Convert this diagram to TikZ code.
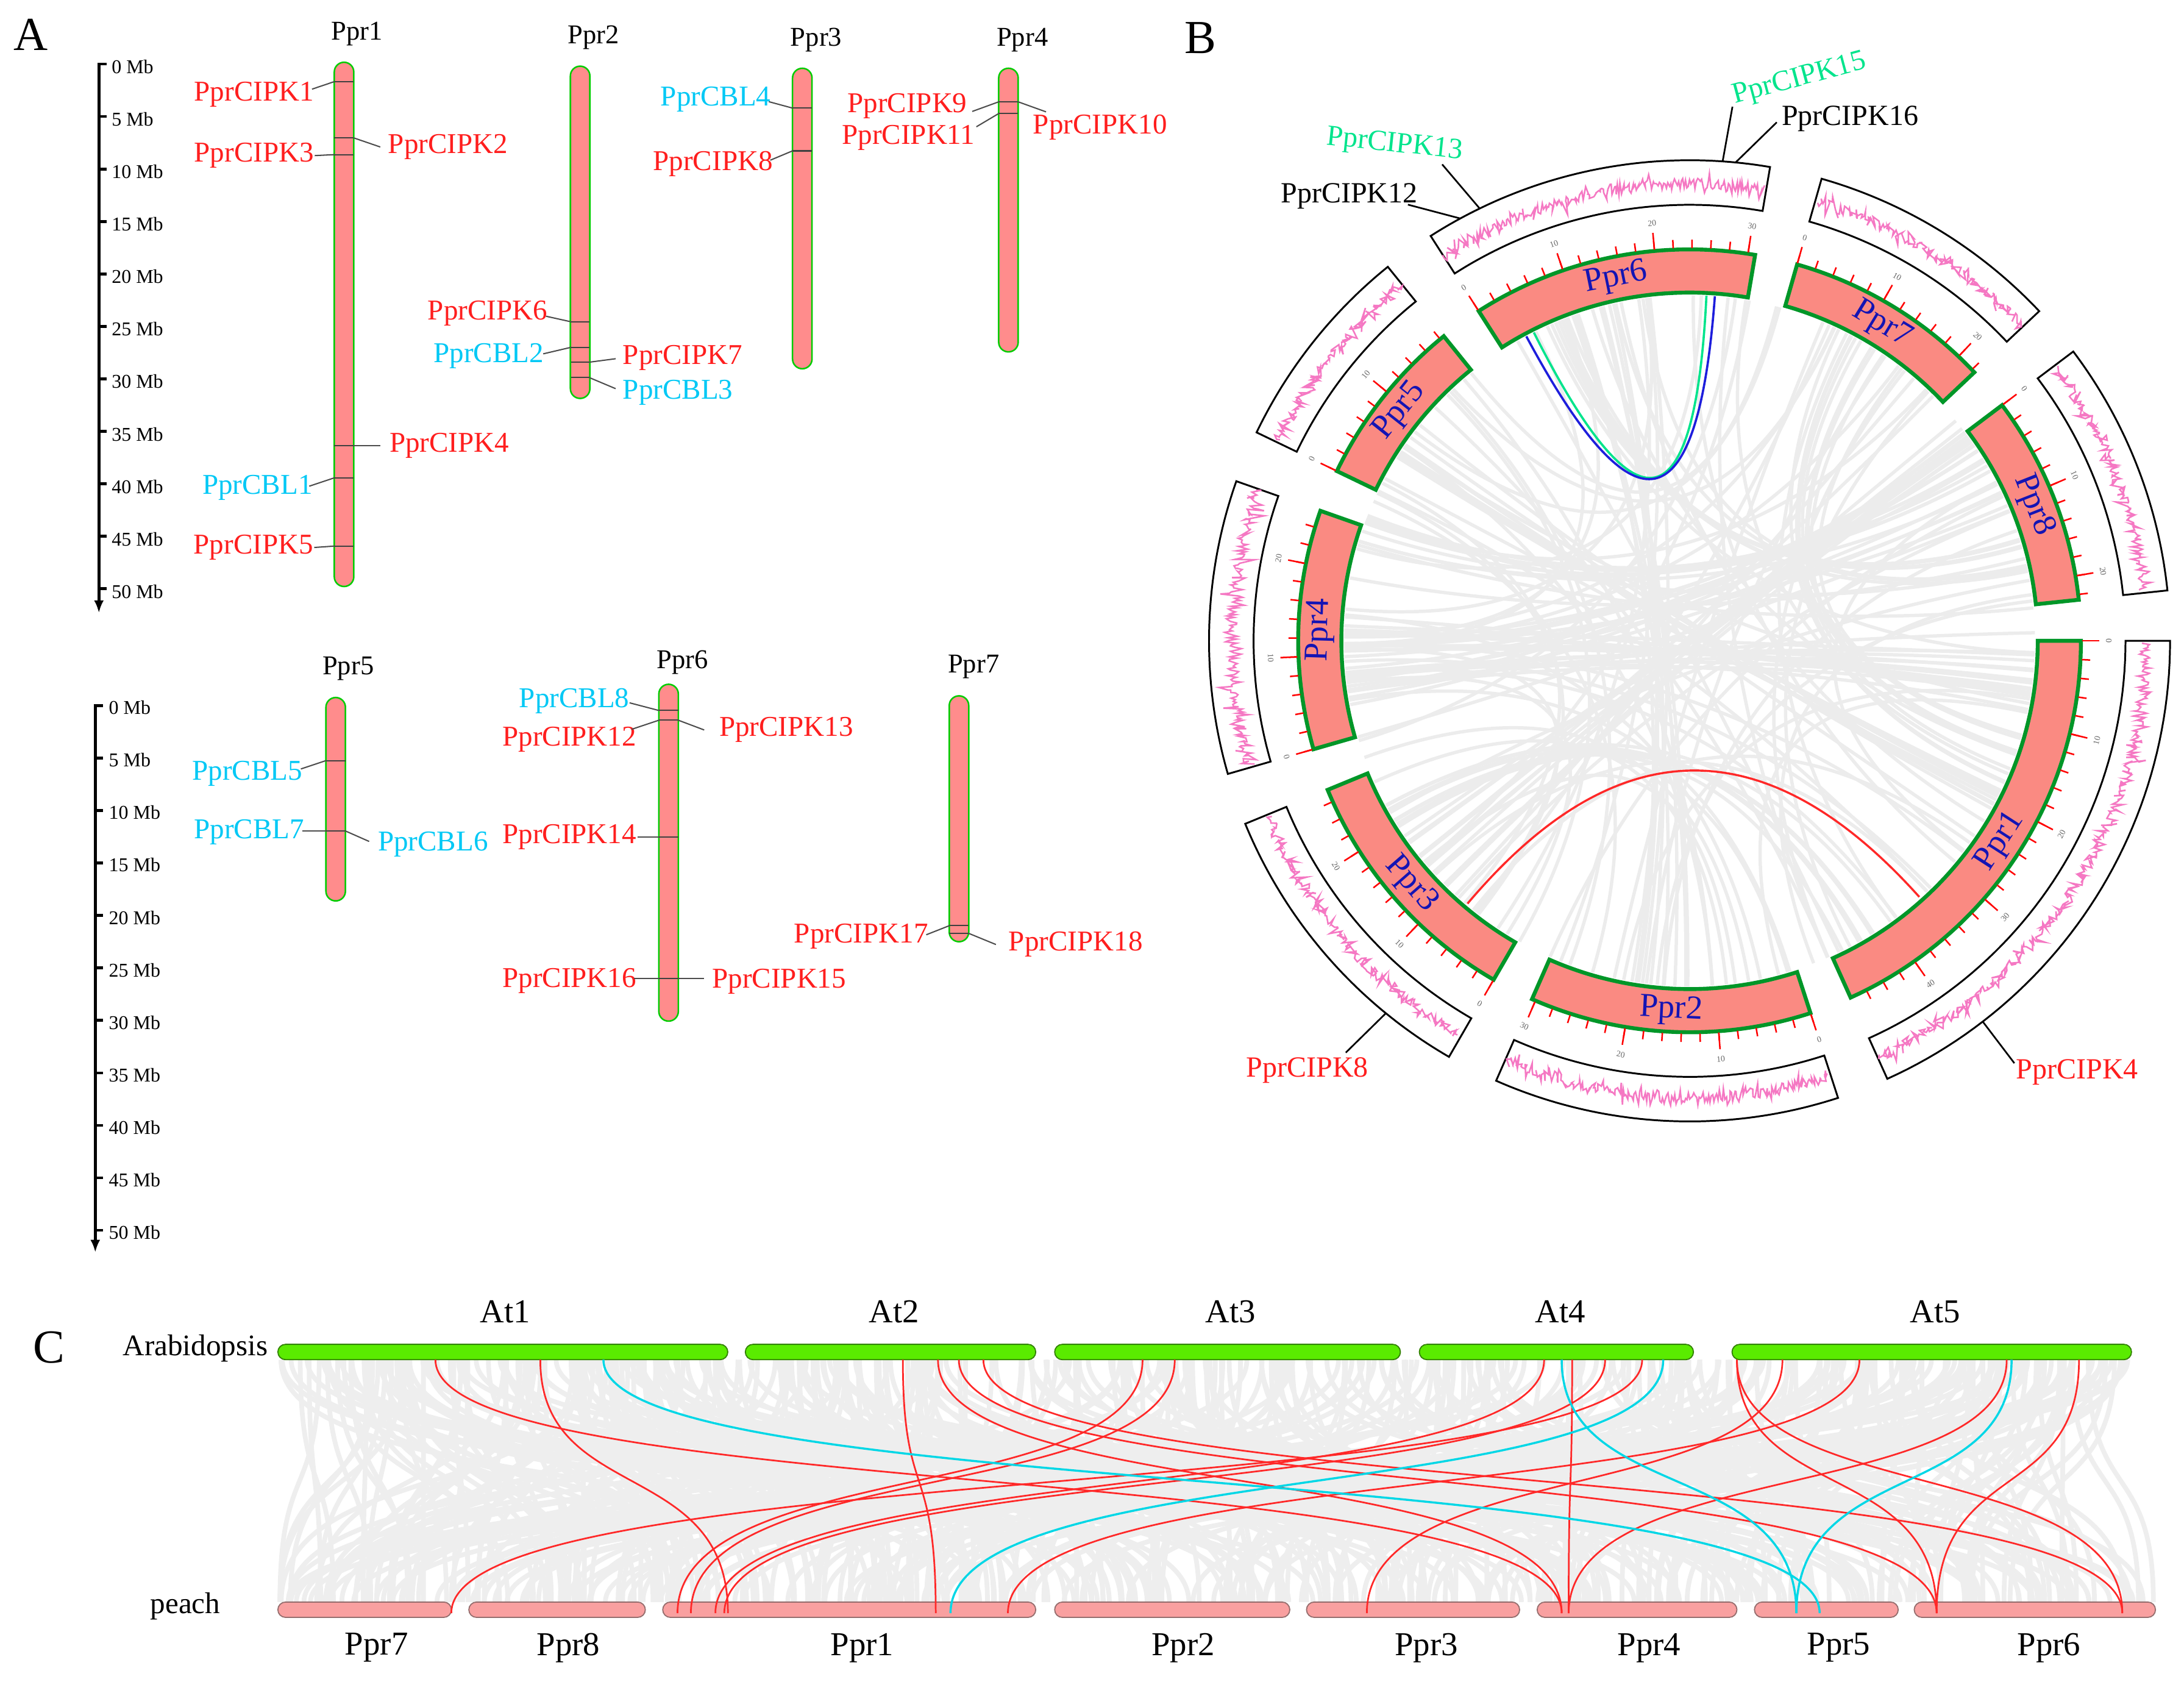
\documentclass[tikz,border=0pt]{standalone}
\usepackage{fontspec}
\setmainfont{Liberation Serif}
\usetikzlibrary{arrows.meta}
\newcommand\myfs[1]{\fontsize{#1}{#1}\selectfont}
\definecolor{cipkred}{RGB}{255,30,30}
\definecolor{cblcyan}{RGB}{0,200,245}
\definecolor{chromfill}{RGB}{255,140,140}
\definecolor{chromedge}{RGB}{0,205,0}
\definecolor{ideofill}{RGB}{250,138,130}
\definecolor{ideoedge}{RGB}{0,150,40}
\definecolor{ideoblue}{RGB}{20,20,180}
\definecolor{densepink}{RGB}{245,120,195}
\definecolor{linkgray}{RGB}{236,236,236}
\definecolor{mint}{RGB}{0,228,140}
\definecolor{linkblue}{RGB}{30,30,220}
\definecolor{atgreen}{RGB}{90,235,0}
\definecolor{atedge}{RGB}{50,130,0}
\definecolor{peachfill}{RGB}{249,160,160}
\definecolor{peachedge}{RGB}{150,110,110}
\definecolor{synred}{RGB}{255,40,40}
\definecolor{syncyan}{RGB}{0,215,230}
\definecolor{cgray}{RGB}{238,238,238}
\begin{document}
\begin{tikzpicture}[x=1pt,y=-1pt,
  lblr/.style={text=cipkred,font=\myfs{20.6},inner sep=0.5pt},
  lblc/.style={text=cblcyan,font=\myfs{20.6},inner sep=0.5pt},
  chrA/.style={draw=chromedge,fill=chromfill,line width=1.1pt,rounded corners=7pt,minimum width=14,inner sep=0pt},
  chrname/.style={font=\myfs{19.5},inner sep=0pt},
  mk/.style={draw=black!75,line width=0.9pt},
  ldr/.style={draw=black!70,line width=0.9pt},
  axisl/.style={line width=2.4pt},
  axist/.style={line width=2pt},
  ticklbl/.style={font=\myfs{14},anchor=west,inner sep=0pt},
  panel/.style={font=\myfs{34},inner sep=0pt},
  glink/.style={draw=linkgray,line width=2.4pt},
  trackbox/.style={draw=black,fill=white,line width=1.3pt},
  densl/.style={draw=densepink,line width=1.1pt},
  ideo/.style={draw=ideoedge,fill=ideofill,line width=2.8pt,line join=miter},
  tickr/.style={draw=red,line width=1.1pt},
  ticknum/.style={font=\myfs{6},text=black!60,inner sep=0pt},
  ideolbl/.style={font=\myfs{24},text=ideoblue,inner sep=0pt},
  blbl/.style={font=\myfs{21},inner sep=0pt},
  bldr/.style={draw=black,line width=1.2pt},
  clink/.style={draw=cgray,line width=3.4pt},
  synr/.style={draw=synred,line width=1.2pt},
  sync/.style={draw=syncyan,line width=1.5pt},
  atbar/.style={draw=atedge,fill=atgreen,line width=0.8pt,rounded corners=5.5pt,minimum height=11,inner sep=0pt},
  pbar/.style={draw=peachedge,fill=peachfill,line width=0.8pt,rounded corners=5.5pt,minimum height=11,inner sep=0pt},
  clbl/.style={font=\myfs{24},inner sep=0pt},
  splbl/.style={font=\myfs{21.5},inner sep=0pt}
]
\useasboundingbox (0,0) rectangle (1568,1207);

%================ PANEL A =================
\node[panel] (pA) at (22,25) {A};
\draw[axisl,-{Latex[length=9pt,width=7pt]}] (71,45) -- (71,440);
\foreach \i in {0,...,10}{
  \pgfmathsetmacro\yy{46+37.66*\i}
  \pgfmathtruncatemacro\mb{5*\i}
  \draw[axist] (71,\yy) -- (76.5,\yy);
  \node[ticklbl] (ta\i) at (80,\yy+2) {\mb\ Mb};
}
\draw[axisl,-{Latex[length=9pt,width=7pt]}] (68.4,505.5) -- (68.4,899);
\foreach \i in {0,...,10}{
  \pgfmathsetmacro\yy{506.5+37.66*\i}
  \pgfmathtruncatemacro\mb{5*\i}
  \draw[axist] (68.4,\yy) -- (74,\yy);
  \node[ticklbl] (tb\i) at (78,\yy+1.5) {\mb\ Mb};
}
\node[chrA,minimum height=376.3] (A1) at (247,232.85) {};
\node[chrA,minimum height=238.5] (A2) at (416.5,166.75) {};
\node[chrA,minimum height=215.7] (A3) at (576,156.85) {};
\node[chrA,minimum height=203.6] (A4) at (724,150.8) {};
\node[chrA,minimum height=146] (A5) at (241,573.7) {};
\node[chrA,minimum height=241.8] (A6) at (480,612.1) {};
\node[chrA,minimum height=176.5] (A7) at (688.5,587.75) {};
\node[chrname] (nA1) at (256.4,24.5) {Ppr1};
\node[chrname] (nA2) at (426,27) {Ppr2};
\node[chrname] (nA3) at (586,28.7) {Ppr3};
\node[chrname] (nA4) at (734,28.7) {Ppr4};
\node[chrname] (nA5) at (250,480) {Ppr5};
\node[chrname] (nA6) at (490,475.3) {Ppr6};
\node[chrname] (nA7) at (699,478.6) {Ppr7};
% Ppr1 markers
\foreach \yy in {58.6,99,111,320,343,392}{\draw[mk] (240,\yy) -- (254,\yy);}
\node[lblr,anchor=east] (g1) at (226,67.8) {PprCIPK1};
\draw[ldr] (224,64) -- (240,58.6);
\node[lblr,anchor=west] (g2) at (278,105.5) {PprCIPK2};
\draw[ldr] (254,99) -- (273,105.5);
\node[lblr,anchor=east] (g3) at (226,111.7) {PprCIPK3};
\draw[ldr] (g3.east) -- (240,111);
\node[lblr,anchor=west] (g4) at (279,320) {PprCIPK4};
\draw[ldr] (254,320) -- (273,320);
\node[lblc,anchor=east] (c1) at (225,350) {PprCBL1};
\draw[ldr] (222,349) -- (240,343);
\node[lblr,anchor=east] (g5) at (225.6,393) {PprCIPK5};
\draw[ldr] (g5.east) -- (240,392);
% Ppr2 markers
\foreach \yy in {231,249.3,260,271}{\draw[mk] (410,\yy) -- (423,\yy);}
\node[lblr,anchor=east] (g6) at (393.7,225) {PprCIPK6};
\draw[ldr] (392,227) -- (410,231);
\node[lblc,anchor=east] (c2) at (391,255.5) {PprCBL2};
\draw[ldr] (390,254) -- (410,249.3);
\node[lblr,anchor=west] (g7) at (446.5,257) {PprCIPK7};
\draw[ldr] (423,260) -- (442,257.5);
\node[lblc,anchor=west] (c3) at (446.5,282) {PprCBL3};
\draw[ldr] (423,271) -- (442,279);
% Ppr3 markers
\foreach \yy in {77.6,108.3}{\draw[mk] (569,\yy) -- (583,\yy);}
\node[lblc,anchor=east] (c4) at (554,71.2) {PprCBL4};
\draw[ldr] (552,73) -- (569,77.6);
\node[lblr,anchor=east] (g8) at (555.5,117.8) {PprCIPK8};
\draw[ldr] (553,115) -- (569,108.3);
% Ppr4 markers
\foreach \yy in {73.1,81.5}{\draw[mk] (717,\yy) -- (731,\yy);}
\node[lblr,anchor=east] (g9) at (695,76) {PprCIPK9};
\draw[ldr] (698,80) -- (717,73.1);
\node[lblr,anchor=west] (g10) at (741,91.6) {PprCIPK10};
\draw[ldr] (731,73.1) -- (751,80.3);
\node[lblr,anchor=east] (g11) at (700.6,99) {PprCIPK11};
\draw[ldr] (701,91) -- (717,81.5);
% Ppr5 markers
\foreach \yy in {546,596.5}{\draw[mk] (234,\yy) -- (248,\yy);}
\node[lblc,anchor=east] (c5) at (217.7,555.3) {PprCBL5};
\draw[ldr] (216,552) -- (234,546);
\node[lblc,anchor=east] (c7) at (219,597.4) {PprCBL7};
\draw[ldr] (217,596.5) -- (234,596.5);
\node[lblc,anchor=west] (c6) at (270.7,606) {PprCBL6};
\draw[ldr] (248,596.5) -- (265,604);
% Ppr6 markers
\foreach \yy in {510,517,601,702.5}{\draw[mk] (473,\yy) -- (487,\yy);}
\node[lblc,anchor=east] (c8) at (452.5,503) {PprCBL8};
\draw[ldr] (452,504.5) -- (473,510);
\node[lblr,anchor=east] (g12) at (457.6,531) {PprCIPK12};
\draw[ldr] (453.5,523.5) -- (473,517);
\node[lblr,anchor=west] (g13) at (515.7,524) {PprCIPK13};
\draw[ldr] (487,517) -- (505.6,524);
\node[lblr,anchor=east] (g14) at (457.6,601) {PprCIPK14};
\draw[ldr] (g14.east) -- (473,601);
\node[lblr,anchor=east] (g16) at (457.6,704) {PprCIPK16};
\draw[ldr] (455,702.5) -- (473,702.5);
\node[lblr,anchor=west] (g15) at (510.6,704.7) {PprCIPK15};
\draw[ldr] (487,702.5) -- (505.6,702.5);
% Ppr7 markers
\foreach \yy in {664.5,670}{\draw[mk] (681.5,\yy) -- (695.5,\yy);}
\node[lblr,anchor=east] (g17) at (667,672) {PprCIPK17};
\draw[ldr] (665,671) -- (681.5,664.5);
\node[lblr,anchor=west] (g18) at (723.5,678) {PprCIPK18};
\draw[ldr] (695.5,670) -- (715,678);

%================ PANEL B =================
\node[panel] (pB) at (862,27) {B};
\begin{scope}[shift={(1213,460)}]
  \pgfmathsetseed{20}
  % random background links
  \foreach \i in {1,...,70}{
    \pgfmathsetmacro\ta{360*rnd}
    \pgfmathsetmacro\tb{\ta+50+260*rnd}
    \draw[glink] (\ta:248) .. controls (\ta:82.7) and (\tb:82.7) .. (\tb:248);
  }
  % bundles of background links
  \foreach \ca/\cb/\w/\k in {5/178/14/14, 330/175/14/12, 20/300/10/8, 95/255/10/8, 140/320/12/10, 30/215/10/8, 345/250/8/6, 60/150/8/6, 200/330/8/6}{
    \foreach \j in {1,...,\k}{
      \pgfmathsetmacro\ta{\ca+\w*(rnd-0.5)}
      \pgfmathsetmacro\tb{\cb+\w*(rnd-0.5)}
      \draw[glink] (\ta:248) .. controls (\ta:82.7) and (\tb:82.7) .. (\tb:248);
    }
  }
  \coordinate (lr3) at (130.2:247);
  \coordinate (lr1) at (48.1:247);
  \draw[draw=synred,line width=1.5pt] (lr3) .. controls (130.2:82.3) and (48.1:82.3) .. (lr1);
  \coordinate (lg1) at (243.2:248);
  \coordinate (lg2) at (272.8:248);
  \draw[draw=mint,line width=1.6pt] (lg1) .. controls (243.2:82.7) and (272.8:82.7) .. (lg2);
  \coordinate (lb1) at (241.8:248);
  \coordinate (lb2) at (274.2:248);
  \draw[draw=linkblue,line width=1.6pt] (lb1) .. controls (241.8:82.7) and (274.2:82.7) .. (lb2);
  \foreach \n/\s/\L in {1/0/47.85,2/72.0/30.4,3/120.04/27.37,4/163.92/25.84,5/205.70/18.5,6/237.40/30.77,7/285.95/22.39,8/322.99/22.57}{
    \pgfmathsetmacro\e{\s+1.373*\L}
    \pgfmathsetmacro\m{(\s+\e)/2}
    \pgfmathsetmacro\sa{\s+0.3}
    \pgfmathsetmacro\ea{\e-0.3}
    \pgfmathtruncatemacro\ns{\L*8}
    \draw[trackbox] plot[domain=\s:\e,samples=50] (\x:313) -- plot[domain=\e:\s,samples=50] (\x:345) -- cycle;
    \draw[densl] plot[domain=\sa:\ea,samples=\ns] (\x:{328+4*(2*rnd-1)+10*(2*rnd-1)*(2*rnd-1)*(2*rnd-1)});
    \draw[ideo] plot[domain=\s:\e,samples=50] (\x:250) -- plot[domain=\e:\s,samples=50] (\x:281) -- cycle;
    \pgfmathtruncatemacro\mx{2*floor(\L/2)}
    \foreach \t in {0,2,...,\mx}{
      \pgfmathsetmacro\ta{\s+1.373*\t}
      \draw[tickr] (\ta:282) -- (\ta:288);
    }
    \foreach \t in {0,10,...,\mx}{
      \pgfmathsetmacro\ta{\s+1.373*\t}
      \pgfmathsetmacro\tr{\ta<180 ? 90-\ta : 270-\ta}
      \draw[tickr] (\ta:282) -- (\ta:294);
      \node[ticknum,rotate=\tr] (tn\n-\t) at (\ta:301) {\t};
    }
    \pgfmathsetmacro\rot{\m<180 ? 90-\m : 270-\m}
    \node[ideolbl,rotate=\rot] (il\n) at (\m:265.5) {Ppr\n};
  }
  \coordinate (e15) at (273.95:345);
  \coordinate (e16) at (275.5:345);
  \coordinate (e13) at (244.1:345);
  \coordinate (e12) at (241.5:345);
  \coordinate (e8) at (129.2:345);
  \coordinate (e4) at (52.4:345);
\end{scope}
\node[blbl,text=mint,rotate=15] (b15) at (1292,57) {PprCIPK15};
\node[blbl,anchor=west] (b16) at (1279,85) {PprCIPK16};
\node[blbl,text=mint,rotate=-6] (b13) at (1001.4,104.2) {PprCIPK13};
\node[blbl,anchor=west] (b12) at (919.4,140.6) {PprCIPK12};
\node[blbl,anchor=west,text=cipkred] (b8) at (894.7,768.2) {PprCIPK8};
\node[blbl,anchor=west,text=cipkred] (b4) at (1447.4,769.5) {PprCIPK4};
\draw[bldr] (1243.8,76.6) -- (e15);
\draw[bldr] (1275.6,87.8) -- (e16);
\draw[bldr] (1035.4,118) -- (e13);
\draw[bldr] (1010.8,146.9) -- (e12);
\draw[bldr] (966.2,755.6) -- (e8);
\draw[bldr] (1446.2,763.2) -- (e4);

%================ PANEL C =================
\node[panel] (pC) at (35.2,967) {C};
\pgfmathsetseed{4242}
\foreach \i in {1,...,300}{
  \pgfmathsetmacro\xa{201+1328*rnd}
  \pgfmathsetmacro\xb{201+1345*rnd}
  \draw[clink] (\xa,976) .. controls (\xa,1080) and (\xb,1046) .. (\xb,1150);
}
\foreach \i in {1,...,160}{
  \pgfmathsetmacro\xa{201+1328*rnd}
  \pgfmathsetmacro\xb{max(201,min(1546,\xa+260*(rnd-0.5)))}
  \draw[clink] (\xa,976) .. controls (\xa,1080) and (\xb,1046) .. (\xb,1150);
}
\node[atbar,minimum width=323] (at1) at (361,970.5) {};
\node[atbar,minimum width=208.5] (at2) at (639.35,970.5) {};
\node[atbar,minimum width=248.2] (at3) at (881.3,970.5) {};
\node[atbar,minimum width=196.8] (at4) at (1117.4,970.5) {};
\node[atbar,minimum width=286.8] (at5) at (1386.9,970.5) {};
\node[pbar,minimum width=124.6] (p7) at (261.8,1155.5) {};
\node[pbar,minimum width=126.7] (p8) at (399.95,1155.5) {};
\node[pbar,minimum width=267.8] (p1) at (609.7,1155.5) {};
\node[pbar,minimum width=168.8] (p2) at (841.6,1155.5) {};
\node[pbar,minimum width=153] (p3) at (1014.5,1155.5) {};
\node[pbar,minimum width=143.4] (p4) at (1175.3,1155.5) {};
\node[pbar,minimum width=103.2] (p5) at (1311.2,1155.5) {};
\node[pbar,minimum width=173.2] (p6) at (1460.9,1155.5) {};
\foreach \a/\b in {312.6/1121.2,387.9/522.6,648.2/671.8,673.4/1121.2,688.4/1390.4,706/1523.7,820.3/486.4,843.4/496,1108.6/513.6,1152.4/520,1179/324,1128.7/1126.2,1247/1390.4,1247/1523.7,1279.7/981.3,1335/723.6,1440.7/1126.2,1492.6/1390.4}{
  \draw[synr] (\a,976) .. controls (\a,1080) and (\b,1046) .. (\b,1158);
}
\foreach \a/\b in {433.2/1306.4,1121.2/1289.7,1194.1/682.4,1444.2/1289.7}{
  \draw[sync] (\a,976) .. controls (\a,1080) and (\b,1046) .. (\b,1158);
}
\node[clbl] (lat1) at (362.8,941.5) {At1};
\node[clbl] (lat2) at (642,941.5) {At2};
\node[clbl] (lat3) at (883.6,941.5) {At3};
\node[clbl] (lat4) at (1120.2,941.5) {At4};
\node[clbl] (lat5) at (1389.4,941.5) {At5};
\node[clbl] (lp7) at (270.3,1182.8) {Ppr7};
\node[clbl] (lp8) at (408,1182.8) {Ppr8};
\node[clbl] (lp1) at (619,1182.8) {Ppr1};
\node[clbl] (lp2) at (849.5,1182.8) {Ppr2};
\node[clbl] (lp3) at (1024,1182.8) {Ppr3};
\node[clbl] (lp4) at (1184,1182.8) {Ppr4};
\node[clbl] (lp5) at (1320,1182.8) {Ppr5};
\node[clbl] (lp6) at (1471,1182.8) {Ppr6};
\node[splbl,anchor=east] (sar) at (192.4,968) {Arabidopsis};
\node[splbl,anchor=east] (spe) at (158.3,1153) {peach};
\end{tikzpicture}
\end{document}
